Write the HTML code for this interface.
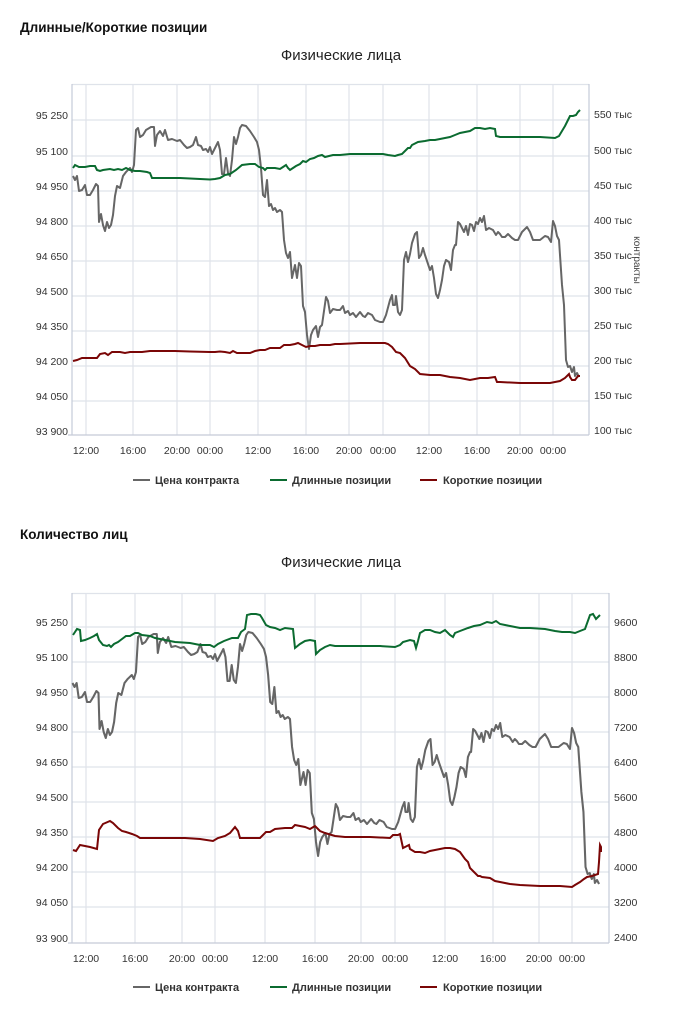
<!DOCTYPE html>
<html><head><meta charset="utf-8"><style>
body{margin:0;background:#fff;width:673px;height:1024px;overflow:hidden;font-family:"Liberation Sans",sans-serif;}
svg{position:absolute;left:0;top:0}
</style></head><body>
<svg width="673" height="1024" viewBox="0 0 673 1024" font-family="Liberation Sans, sans-serif">
<defs>
<polyline id="gray" fill="none" stroke="#666" stroke-width="2" stroke-linejoin="round" points="73,176 75,180 77,176 79,191 82,190 85,185 87,195 90,195 93,190 96,184 98,186 99,222 101,214 103,225 105,231 107,222 109,228 111,225 113,215 115,196 117,186 120,188 123,176 126,172 130,168 132,172 134,165 136,130 138,128 140,137 143,135 146,130 151,127 154,127 155,146 157,135 160,131 163,136 165,130 168,140 172,139 177,141 180,140 184,145 187,148 190,147 193,145 196,137 198,145 201,146 203,150 206,149 208,152 210,147 212,154 215,148 218,142 220,150 222,174 224,174 226,158 228,173 230,176 232,160 234,137 236,144 238,137 240,128 242,125 246,126 250,131 254,137 257,142 259,150 261,168 263,195 265,197 267,180 269,206 271,204 273,210 275,208 277,212 280,210 282,212 284,240 286,253 288,258 290,252 292,278 295,265 297,278 299,263 301,266 303,306 305,312 307,335 309,349 311,335 313,330 316,326 318,337 320,327 322,325 324,311 326,297 328,301 330,313 333,309 337,310 340,310 343,306 345,313 348,311 350,315 353,313 356,317 360,312 363,316 365,317 368,313 372,315 375,320 380,322 383,322 386,315 390,300 392,295 393,305 395,305 396,296 398,312 400,315 402,310 404,260 406,252 408,262 410,254 412,243 415,234 417,232 419,258 421,255 423,248 425,255 428,264 430,270 432,266 434,278 436,294 438,298 440,290 442,280 444,266 446,260 449,262 451,270 453,250 455,245 456,245 458,222 460,224 462,228 464,232 466,226 468,235 470,224 472,225 474,231 476,222 478,224 480,218 482,222 484,216 486,230 489,228 493,230 496,235 498,232 500,234 502,237 505,237 508,234 512,238 515,240 518,240 522,232 527,227 530,232 533,240 536,240 540,240 545,236 548,237 551,242 553,221 555,226 557,236 559,240 562,285 564,305 566,360 568,367 570,366 572,372 574,367 575,376 577,373 579,377"/>
</defs>
<text x="20" y="32" font-size="13.5" font-weight="bold" fill="#111">Длинные/Короткие позиции</text>
<text x="341" y="60" font-size="15" text-anchor="middle" fill="#222">Физические лица</text>
<g stroke="#dfe3ea" stroke-width="1.2">
<line x1="72" y1="84.5" x2="589" y2="84.5"/>
<line x1="72" y1="120" x2="589" y2="120"/><line x1="72" y1="156" x2="589" y2="156"/><line x1="72" y1="191" x2="589" y2="191"/><line x1="72" y1="226" x2="589" y2="226"/><line x1="72" y1="261" x2="589" y2="261"/><line x1="72" y1="296" x2="589" y2="296"/><line x1="72" y1="331" x2="589" y2="331"/><line x1="72" y1="366" x2="589" y2="366"/><line x1="72" y1="401" x2="589" y2="401"/>
<line x1="86" y1="84" x2="86" y2="435"/><line x1="133" y1="84" x2="133" y2="435"/><line x1="177" y1="84" x2="177" y2="435"/><line x1="210" y1="84" x2="210" y2="435"/><line x1="258" y1="84" x2="258" y2="435"/><line x1="306" y1="84" x2="306" y2="435"/><line x1="349" y1="84" x2="349" y2="435"/><line x1="383" y1="84" x2="383" y2="435"/><line x1="429" y1="84" x2="429" y2="435"/><line x1="477" y1="84" x2="477" y2="435"/><line x1="520" y1="84" x2="520" y2="435"/><line x1="553" y1="84" x2="553" y2="435"/>
</g>
<g stroke="#c5cbd8" stroke-width="1.2"><line x1="72" y1="84" x2="72" y2="435"/><line x1="589" y1="84" x2="589" y2="435"/><line x1="68" y1="435" x2="589" y2="435"/></g>
<g font-size="10.5" fill="#333" text-anchor="end">
<text x="68" y="119">95 250</text><text x="68" y="155">95 100</text><text x="68" y="190">94 950</text><text x="68" y="225">94 800</text><text x="68" y="260">94 650</text><text x="68" y="295">94 500</text><text x="68" y="330">94 350</text><text x="68" y="365">94 200</text><text x="68" y="400">94 050</text><text x="68" y="435">93 900</text>
</g>
<g font-size="10.5" fill="#333">
<text x="594" y="118">550 тыс</text><text x="594" y="154">500 тыс</text><text x="594" y="189">450 тыс</text><text x="594" y="224">400 тыс</text><text x="594" y="259">350 тыс</text><text x="594" y="294">300 тыс</text><text x="594" y="329">250 тыс</text><text x="594" y="364">200 тыс</text><text x="594" y="399">150 тыс</text><text x="594" y="434">100 тыс</text>
</g>
<text transform="translate(634,260) rotate(90)" font-size="10" fill="#444" text-anchor="middle">контракты</text>
<g font-size="10.5" fill="#333" text-anchor="middle">
<text x="86" y="454">12:00</text><text x="133" y="454">16:00</text><text x="177" y="454">20:00</text><text x="210" y="454">00:00</text><text x="258" y="454">12:00</text><text x="306" y="454">16:00</text><text x="349" y="454">20:00</text><text x="383" y="454">00:00</text><text x="429" y="454">12:00</text><text x="477" y="454">16:00</text><text x="520" y="454">20:00</text><text x="553" y="454">00:00</text>
</g>
<use href="#gray"/>
<polyline fill="none" stroke="#0b6b30" stroke-width="2" points="73,168 75,165 77,166 79,167 85,167 90,166 95,166 97,170 100,171 103,170 110,169 114,170 118,169 122,170 126,168 130,170 135,171 140,171 147,172 150,173 152,178 160,178 170,178 180,178 190,178.5 200,179 210,179.5 215,179 220,178 225,175 230,174 236,170 242,165 250,164 255,164 259,167 263,168 265,170 267,168 270,168 275,168 280,169 283,167 286,165 288,168 290,170 293,168 296,166 300,164 303,161 306,162 310,159 314,158 318,156 322,155 325,157 333,155 340,155 350,154 360,154 375,154 383,154 388,155 395,156 398,155 402,154 405,151 408,148 410,148 412,145 418,142 425,141 430,140 435,140 440,139 445,138 450,137 455,135 460,133 465,132 470,131 475,128 480,128 485,129 490,128 495,129 496,136 500,137 520,137 540,137 555,138 559,136 562,131 565,126 568,120 570,116 573,116 576,115 578,112 580,110"/>
<polyline fill="none" stroke="#7a0606" stroke-width="2" points="73,361 77,360 82,358 90,358 97,358 100,354 105,353 108,355 112,352 120,352 125,353 130,352 135,352 142,352 150,351 160,351 175,351 190,351.5 210,352 215,352 220,351.5 225,352 230,353 233,351 237,353 240,353 245,353 250,353 255,351 260,350 265,350 270,348 275,348 280,348 284,345 290,345 295,344 298,343 302,345 306,347 310,346 315,346 320,345 330,345 335,344 340,344 360,343 380,343 385,343 388,344 392,347 396,352 400,353 403,356 405,358 410,366 415,369 420,374 430,375 440,375 445,376 450,377 460,378 470,380 475,379 480,378 488,378 495,377 497,382 500,382 520,383 540,383 550,383 555,382 560,381 565,378 568,375 569,374 570,377 572,380 575,380 578,376 580,376"/>
<g font-size="11" font-weight="bold" fill="#333">
<line x1="133" y1="480" x2="150" y2="480" stroke="#666" stroke-width="2"/><text x="155" y="484">Цена контракта</text>
<line x1="270" y1="480" x2="287" y2="480" stroke="#0b6b30" stroke-width="2"/><text x="292" y="484">Длинные позиции</text>
<line x1="420" y1="480" x2="437" y2="480" stroke="#7a0606" stroke-width="2"/><text x="443" y="484">Короткие позиции</text>
</g>

<text x="20" y="539" font-size="13.5" font-weight="bold" fill="#111">Количество лиц</text>
<text x="341" y="567" font-size="15" text-anchor="middle" fill="#222">Физические лица</text>
<g stroke="#dfe3ea" stroke-width="1.2">
<line x1="72" y1="593.5" x2="609" y2="593.5"/>
<line x1="72" y1="627" x2="609" y2="627"/><line x1="72" y1="662" x2="609" y2="662"/><line x1="72" y1="697" x2="609" y2="697"/><line x1="72" y1="732" x2="609" y2="732"/><line x1="72" y1="767" x2="609" y2="767"/><line x1="72" y1="802" x2="609" y2="802"/><line x1="72" y1="837" x2="609" y2="837"/><line x1="72" y1="872" x2="609" y2="872"/><line x1="72" y1="907" x2="609" y2="907"/>
<line x1="86" y1="593" x2="86" y2="943"/><line x1="135" y1="593" x2="135" y2="943"/><line x1="182" y1="593" x2="182" y2="943"/><line x1="215" y1="593" x2="215" y2="943"/><line x1="265" y1="593" x2="265" y2="943"/><line x1="315" y1="593" x2="315" y2="943"/><line x1="361" y1="593" x2="361" y2="943"/><line x1="395" y1="593" x2="395" y2="943"/><line x1="445" y1="593" x2="445" y2="943"/><line x1="493" y1="593" x2="493" y2="943"/><line x1="539" y1="593" x2="539" y2="943"/><line x1="572" y1="593" x2="572" y2="943"/>
</g>
<g stroke="#c5cbd8" stroke-width="1.2"><line x1="72" y1="593" x2="72" y2="943"/><line x1="609" y1="593" x2="609" y2="943"/><line x1="68" y1="943" x2="609" y2="943"/></g>
<g font-size="10.5" fill="#333" text-anchor="end">
<text x="68" y="626">95 250</text><text x="68" y="661">95 100</text><text x="68" y="696">94 950</text><text x="68" y="731">94 800</text><text x="68" y="766">94 650</text><text x="68" y="801">94 500</text><text x="68" y="836">94 350</text><text x="68" y="871">94 200</text><text x="68" y="906">94 050</text><text x="68" y="942">93 900</text>
</g>
<g font-size="10.5" fill="#333">
<text x="614" y="626">9600</text><text x="614" y="661">8800</text><text x="614" y="696">8000</text><text x="614" y="731">7200</text><text x="614" y="766">6400</text><text x="614" y="801">5600</text><text x="614" y="836">4800</text><text x="614" y="871">4000</text><text x="614" y="906">3200</text><text x="614" y="941">2400</text>
</g>
<g font-size="10.5" fill="#333" text-anchor="middle">
<text x="86" y="962">12:00</text><text x="135" y="962">16:00</text><text x="182" y="962">20:00</text><text x="215" y="962">00:00</text><text x="265" y="962">12:00</text><text x="315" y="962">16:00</text><text x="361" y="962">20:00</text><text x="395" y="962">00:00</text><text x="445" y="962">12:00</text><text x="493" y="962">16:00</text><text x="539" y="962">20:00</text><text x="572" y="962">00:00</text>
</g>
<g transform="translate(86,507) scale(1.0407,1) translate(-86,0)"><use href="#gray"/></g>
<polyline fill="none" stroke="#0b6b30" stroke-width="2" points="73,635 75,632 77,629 80,630 81,641 85,640 90,638 94,636 97,634 99,640 103,645 107,646 109,645 111,647 114,644 118,642 122,639 126,636 130,636 135,633 138,633 142,635 150,636 155,638 160,639 165,640 175,642 190,643 200,645 210,645 214,647 218,644 224,641 232,638 238,638 241,632 245,629 247,615 251,614 256,614 260,615 262,618 266,625 270,627 275,628 280,630 285,628 293,629 295,648 300,644 305,641 310,640 315,641 316,654 320,650 325,647 330,645 335,646 340,646 360,646 380,646 395,647 400,645 403,642 410,640 414,641 416,648 418,641 420,633 425,630 430,630 435,632 440,633 445,630 450,635 453,637 455,633 460,631 468,628 474,626 480,625 487,622 492,623 496,621 500,624 510,626 520,628 530,628 545,629 555,631 562,632 570,632 575,633 580,631 585,629 590,615 593,614 596,619 598,617 600,615"/>
<polyline fill="none" stroke="#7a0606" stroke-width="2" points="73,850 76,851 80,845 85,846 90,847 97,849 99,830 103,824 110,821 113,823 118,828 122,831 126,832 132,834 137,836 140,838 145,838 155,838 170,838 185,838 200,839 213,841 218,838 225,836 230,833 235,827 238,831 240,838 245,838 255,838 260,838 266,832 270,832 275,829 285,828 292,828 295,825 300,826 305,827 310,829 315,826 320,831 325,833 335,836 345,837 355,837 370,837 390,838 393,835 398,835 400,834 403,848 407,846 409,845 410,849 415,852 420,852 425,853 430,851 435,850 440,849 445,848 450,848 455,849 460,852 465,859 468,862 470,868 474,872 478,876 480,876 482,877 490,878 495,881 500,882 510,884 520,885 540,886 560,886 572,887 575,885 580,882 584,879 587,877 592,876 598,874 599,862 600,845 601,847 601,852"/>
<g font-size="11" font-weight="bold" fill="#333">
<line x1="133" y1="987" x2="150" y2="987" stroke="#666" stroke-width="2"/><text x="155" y="991">Цена контракта</text>
<line x1="270" y1="987" x2="287" y2="987" stroke="#0b6b30" stroke-width="2"/><text x="292" y="991">Длинные позиции</text>
<line x1="420" y1="987" x2="437" y2="987" stroke="#7a0606" stroke-width="2"/><text x="443" y="991">Короткие позиции</text>
</g>
</svg>
</body></html>
